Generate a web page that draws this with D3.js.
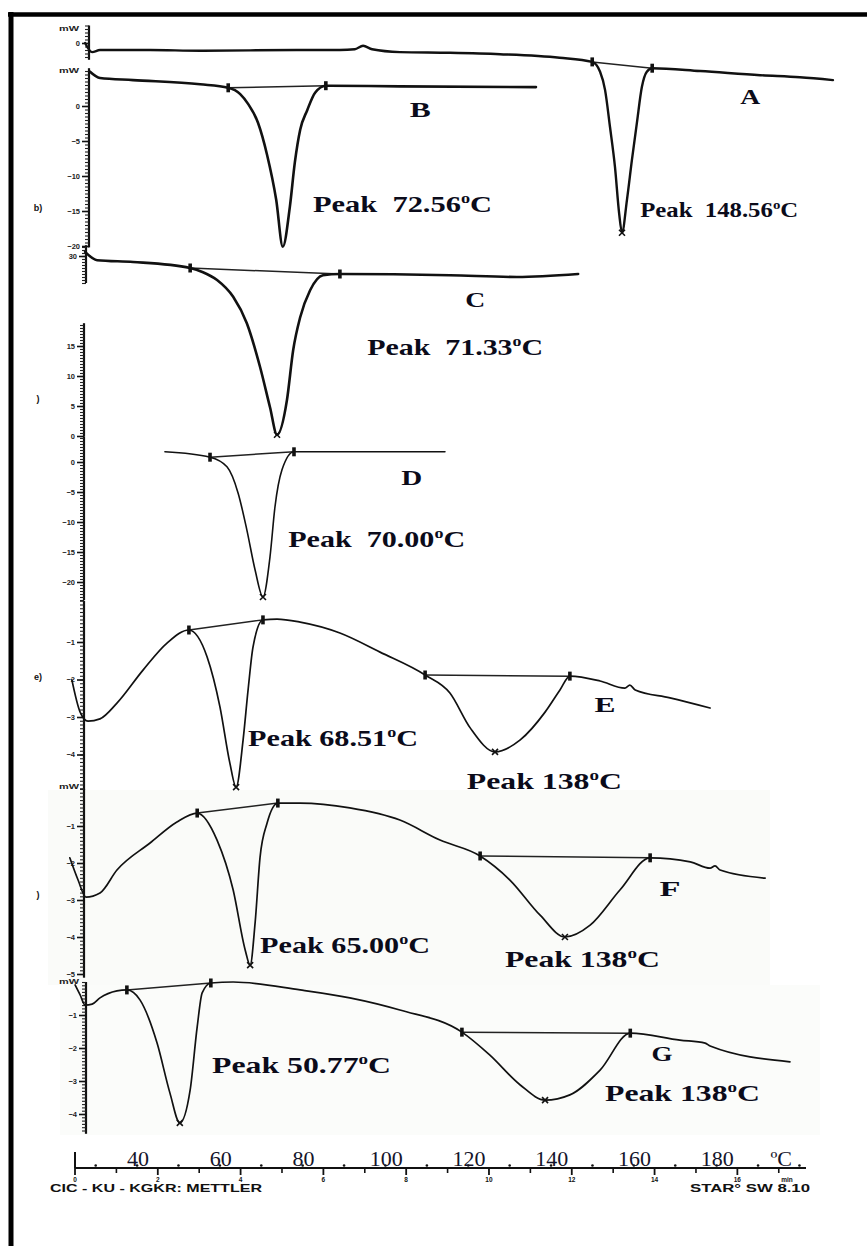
<!DOCTYPE html>
<html>
<head>
<meta charset="utf-8">
<script src="https://cdn.jsdelivr.net/npm/d3@7"></script>
<style>
  html, body { margin: 0; background: #fff; }
  text { white-space: pre; }
</style>
</head>
<body>
<svg class="main" width="867" height="1246"></svg>
<script>
// ---- data: [temperature °C, heat flow mW] ----
const curveA = [[27.2,0.0],[28.9,-1.3],[30.8,-1.0],[42.9,-1.0],[55.0,-1.1],[79.2,-1.0],[88.8,-1.0],[92.4,-0.9],[94.4,-0.4],[96.6,-0.9],[103.3,-1.3],[115.4,-1.4],[127.5,-1.6],[141.9,-2.1],[149.8,-2.7],[151.7,-4.1],[152.9,-6.7],[154.1,-12.0],[155.3,-17.7],[156.3,-24.3],[157.0,-27.1],[158.2,-22.4],[159.4,-16.7],[160.6,-11.4],[161.8,-6.3],[163.0,-4.1],[164.3,-3.6],[175.9,-4.0],[190.4,-4.6],[200.0,-4.9],[208.0,-5.3]];
const marksA = [[149.8,-2.7],[164.3,-3.6]];
const peaksA = [[157.0,-27.1]];

const curveB = [[28.4,4.9],[30.8,4.0],[38.8,3.7],[55.0,3.1],[61.8,2.6],[64.7,1.7],[66.6,0.3],[69.0,-2.4],[71.2,-7.0],[73.4,-13.4],[75.0,-20.1],[76.7,-14.4],[77.9,-8.1],[79.2,-3.4],[80.9,-0.6],[82.8,1.9],[85.4,2.9],[103.3,2.8],[136.2,2.7]];
const marksB = [[61.8,2.6],[85.4,2.9]];
const peaksB = [];

const curveC = [[27.2,30.7],[30.1,29.3],[38.8,29.0],[52.6,28.0],[55.7,27.3],[59.1,26.0],[63.0,23.2],[66.3,18.8],[69.5,11.5],[71.9,4.8],[73.6,0.2],[76.0,6.0],[77.5,14.3],[79.2,19.8],[81.6,24.3],[84.7,26.8],[88.8,27.0],[115.4,26.8],[131.6,26.5],[146.4,27.0]];
const marksC = [[52.6,28.0],[88.8,27.0]];
const peaksC = [[73.6,0.2]];

const curveD = [[46.5,1.7],[57.4,0.8],[61.5,-0.8],[64.2,-5.2],[66.3,-11.3],[68.3,-18.0],[70.2,-22.5],[71.9,-15.8],[73.1,-7.5],[74.8,-1.3],[77.7,1.7],[114.2,1.7]];
const marksD = [[57.4,0.8],[77.7,1.7]];
const peaksD = [[70.2,-22.5]];

const curveE = [[24.0,-2.01],[26.0,-2.87],[27.9,-3.11],[30.8,-3.05],[34.9,-2.63],[41.2,-1.75],[47.0,-1.03],[52.3,-0.68],[56.7,-1.40],[59.8,-2.73],[62.2,-4.23],[63.7,-4.87],[65.4,-3.61],[66.6,-2.28],[67.8,-1.13],[70.2,-0.41],[73.6,-0.39],[79.2,-0.47],[88.8,-0.76],[98.5,-1.27],[109.4,-1.88],[115.4,-2.36],[120.3,-3.29],[126.3,-3.93],[132.4,-3.61],[138.4,-2.87],[142.0,-2.28],[144.4,-1.91],[151.7,-2.04],[157.7,-2.23],[158.9,-2.15],[160.2,-2.28],[168.6,-2.49],[178.3,-2.76]];
const marksE = [[52.3,-0.68],[70.2,-0.41],[109.4,-1.88],[144.4,-1.91]];
const peaksE = [[63.7,-4.87],[126.3,-3.93]];

const curveF = [[23.5,-1.86],[25.5,-2.46],[27.4,-2.92],[30.8,-2.81],[34.9,-2.19],[42.9,-1.46],[49.4,-0.89],[54.3,-0.65],[59.1,-1.38],[63.0,-2.73],[65.9,-4.35],[67.1,-4.76],[68.3,-3.62],[69.5,-1.84],[71.2,-0.92],[73.8,-0.38],[79.2,-0.38],[91.2,-0.51],[103.3,-0.84],[113.0,-1.38],[122.7,-1.81],[129.9,-2.46],[137.2,-3.41],[143.2,-4.00],[149.3,-3.68],[156.5,-2.73],[163.8,-1.86],[173.5,-1.97],[178.3,-2.14],[179.5,-2.08],[180.7,-2.19],[191.6,-2.41]];
const marksF = [[54.3,-0.65],[73.8,-0.38],[122.7,-1.81],[163.8,-1.86]];
const peaksF = [[67.1,-4.76],[143.2,-4.00]];

const curveG = [[24.8,-0.09],[26.0,-0.39],[27.2,-0.70],[28.9,-0.67],[30.8,-0.48],[34.9,-0.27],[37.3,-0.24],[40.5,-0.55],[44.6,-1.85],[47.7,-3.36],[50.1,-4.27],[52.6,-3.27],[54.3,-1.36],[55.5,-0.33],[57.6,-0.03],[63.0,0.00],[79.2,-0.24],[91.2,-0.48],[103.3,-0.85],[118.3,-1.52],[125.0,-2.21],[132.4,-3.12],[138.4,-3.58],[144.4,-3.42],[151.7,-2.67],[159.0,-1.55],[171.0,-1.76],[177.1,-1.85],[178.3,-1.94],[197.6,-2.42]];
const marksG = [[37.3,-0.24],[57.6,-0.03],[118.3,-1.52],[159.0,-1.55]];
const peaksG = [[50.1,-4.27],[138.4,-3.58]];

// ---- tick labels and texts ----
const tempTicks = [40, 60, 80, 100, 120, 140, 160, 180];
const minuteTicks = [0, 2, 4, 6, 8, 10, 12, 14, 16];
const rulerTicksA = [0];
const rulerTicksB = [0, -5, -10, -15, -20];
const rulerTicksC = [0, 5, 10, 15, 30];
const rulerTicksD = [0, -5, -10, -15, -20];
const rulerTicksE = [-1, -2, -3, -4];
const rulerTicksF = [-1, -2, -3, -4, -5];
const rulerTicksG = [-1, -2, -3, -4];
const peakTexts = {
  A: ["Peak  148.56"],
  B: ["Peak  72.56"],
  C: ["Peak  71.33"],
  D: ["Peak  70.00"],
  E: ["Peak 68.51", "Peak 138"],
  F: ["Peak 65.00", "Peak 138"],
  G: ["Peak 50.77", "Peak 138"]
};

(function () {
  'use strict';

  const svg = d3.select("svg.main");
  const serif = "'Liberation Serif', 'Times New Roman', serif";
  const sans = "'Liberation Sans', Arial, sans-serif";

  const x = d3.scaleLinear().domain([25, 201]).range([76, 804]);
  const minutes = d3.scaleLinear().domain([0, 17.6]).range([75, 803.6]);

  // layout of the stacked thermograms (y scale per curve, ruler pieces, labels)
  const panels = [
    { key: "A", data: curveA, marks: marksA, peaks: peaksA, ticks: rulerTicksA,
      domain: [0, -5], range: [43, 78], lw: 2.4, minor: 0.5, unit: 2.1,
      rulers: [[2.5, -2.4, 89]],
      letter: [188.0, -8.7, 20, 20], labels: [[161.4, -24.9, 22, 158]] },
    { key: "B", data: curveB, marks: marksB, peaks: peaksB, ticks: rulerTicksB,
      domain: [0, -20], range: [106, 246], lw: 2.6, minor: 0.5, unit: 5.1,
      rulers: [[5.4, -20.2, 89]],
      letter: [108.2, -1.6, 22, 21], labels: [[82.3, -15.1, 24, 179]] },
    { key: "C", data: curveC, marks: marksC, peaks: peaksC, ticks: rulerTicksC,
      domain: [0, 15], range: [436, 346], lw: 2.6, minor: 0.5, unit: null,
      rulers: [[31.8, 25.5, 86], [18.8, 0, 84]],
      letter: [121.5, 21.5, 22, 20], labels: [[95.4, 13.5, 24, 176]] },
    { key: "D", data: curveD, marks: marksD, peaks: peaksD, ticks: rulerTicksD,
      domain: [0, -20], range: [462, 582], lw: 1.6, minor: 0.5, unit: null,
      rulers: [[4.3, -23, 84]],
      letter: [106.2, -3.8, 22, 21], labels: [[76.3, -14.2, 24, 177]] },
    { key: "E", data: curveE, marks: marksE, peaks: peaksE, ticks: rulerTicksE,
      domain: [-1, -4], range: [642, 754.5], lw: 1.7, minor: 0.1, unit: null,
      rulers: [[0.1, -4.95, 84]],
      letter: [152.9, -2.87, 22, 21], labels: [[66.6, -3.77, 23, 170], [119.5, -4.92, 23, 155]] },
    { key: "F", data: curveF, marks: marksF, peaks: peaksF, ticks: rulerTicksF,
      domain: [-1, -5], range: [826, 974], lw: 1.7, minor: 0.1, unit: 0.08,
      rulers: [[0, -5.1, 84]],
      letter: [168.6, -2.89, 22, 21], labels: [[69.5, -4.43, 23, 170], [128.7, -4.81, 23, 155]] },
    { key: "G", data: curveG, marks: marksG, peaks: peaksG, ticks: rulerTicksG,
      domain: [-1, -4], range: [1015, 1114], lw: 1.7, minor: 0.1, unit: 0.02,
      rulers: [[0, -4.6, 86]],
      letter: [166.7, -2.39, 22, 21], labels: [[57.9, -2.76, 23, 179], [152.9, -3.61, 23, 155]] }
  ];

  // very faint scan shading behind the lower two traces
  svg.append("rect").attr("x", 48).attr("y", 790).attr("width", 722).attr("height", 195)
    .attr("fill", "#fafbf9");
  svg.append("rect").attr("x", 60).attr("y", 985).attr("width", 760).attr("height", 150)
    .attr("fill", "#fbfcfa");

  // page frame (top and left edges only)
  svg.append("line").attr("x1", 8).attr("x2", 867).attr("y1", 14.5).attr("y2", 14.5)
    .attr("stroke", "#000").attr("stroke-width", 4.5);
  svg.append("line").attr("x1", 11).attr("x2", 11).attr("y1", 12).attr("y2", 1246)
    .attr("stroke", "#000").attr("stroke-width", 5);

  function drawRuler(g, y, p) {
    p.rulers.forEach(([top, bottom, rx]) => {
      const r = g.append("g").attr("transform", `translate(${rx},0)`);
      r.append("line").attr("y1", y(top)).attr("y2", y(bottom))
        .attr("stroke", "#111").attr("stroke-width", 2.2);
      const lo = Math.min(top, bottom), hi = Math.max(top, bottom);
      const minor = d3.range(Math.ceil(lo / p.minor) * p.minor, hi + 1e-9, p.minor);
      r.call(d3.axisLeft(y).tickValues(minor).tickSize(4).tickFormat(""))
        .call(s => s.select(".domain").remove())
        .call(s => s.selectAll(".tick line").attr("stroke", "#222").attr("stroke-width", 1.1));
      const majors = p.ticks.filter(v => v >= lo - 1e-9 && v <= hi + 1e-9);
      const ax = r.append("g")
        .call(d3.axisLeft(y).tickValues(majors).tickSize(7).tickPadding(2).tickFormat(d3.format("d")))
        .call(s => s.select(".domain").remove());
      ax.selectAll(".tick line").attr("stroke", "#111").attr("stroke-width", 1.6);
      ax.selectAll(".tick text").attr("font-family", sans).attr("font-weight", "bold")
        .attr("font-size", 7.5).attr("fill", "#222");
    });
    if (p.unit !== null) {
      g.append("text").attr("x", 69).attr("y", y(p.unit)).attr("dy", "0.35em")
        .attr("text-anchor", "middle").attr("font-family", sans).attr("font-weight", "bold")
        .attr("font-size", 7.5).attr("textLength", 20).attr("lengthAdjust", "spacingAndGlyphs")
        .attr("fill", "#222").text("mW");
    }
  }

  function peakLabel(g, px, py, text, size, width) {
    const t = g.append("text").attr("x", px).attr("y", py)
      .attr("font-family", serif).attr("font-weight", "bold").attr("font-size", size)
      .attr("fill", "#0b0b1a").attr("textLength", width).attr("lengthAdjust", "spacingAndGlyphs");
    t.append("tspan").text(text);
    t.append("tspan").attr("font-size", size * 0.6).attr("dy", -size * 0.38).text("o");
    t.append("tspan").attr("dy", size * 0.38).text("C");
    return t;
  }

  panels.forEach(p => {
    const y = d3.scaleLinear().domain(p.domain).range(p.range);
    const g = svg.append("g").attr("class", `curve curve-${p.key}`);

    drawRuler(g, y, p);

    const line = d3.line().x(d => x(d[0])).y(d => y(d[1])).curve(d3.curveMonotoneX);
    const straight = d3.line().x(d => x(d[0])).y(d => y(d[1]));

    // integration baselines between onset / endset markers
    for (let i = 0; i + 1 < p.marks.length; i += 2) {
      g.append("path").attr("d", straight([p.marks[i], p.marks[i + 1]]))
        .attr("fill", "none").attr("stroke", "#222").attr("stroke-width", 1.5);
    }

    g.append("path").attr("d", line(p.data))
      .attr("fill", "none").attr("stroke", "#111").attr("stroke-width", p.lw)
      .attr("stroke-linejoin", "round").attr("stroke-linecap", "round");

    g.selectAll("rect.mark").data(p.marks).join("rect").attr("class", "mark")
      .attr("x", d => x(d[0]) - 1.8).attr("y", d => y(d[1]) - 4.5)
      .attr("width", 3.6).attr("height", 9).attr("fill", "#111");

    g.selectAll("path.peak").data(p.peaks).join("path").attr("class", "peak")
      .attr("d", d => {
        const cx = x(d[0]), cy = y(d[1]);
        return `M${cx - 3},${cy - 3}L${cx + 3},${cy + 3}M${cx + 3},${cy - 3}L${cx - 3},${cy + 3}`;
      })
      .attr("stroke", "#111").attr("stroke-width", 1.6);

    const [lt, lv, ls, lw] = p.letter;
    g.append("text").attr("x", x(lt)).attr("y", y(lv)).attr("text-anchor", "middle")
      .attr("font-family", serif).attr("font-weight", "bold").attr("font-size", ls)
      .attr("textLength", lw).attr("lengthAdjust", "spacingAndGlyphs")
      .attr("fill", "#0b0b1a").text(p.key);

    p.labels.forEach(([t, v, size, width], i) => {
      peakLabel(g, x(t), y(v), peakTexts[p.key][i], size, width);
    });
  });

  // bottom axes: instrument time (min) on the line, temperature labels above
  const axisY = 1168;
  const axis = svg.append("g");
  axis.append("line").attr("x1", minutes(0)).attr("x2", 806).attr("y1", axisY).attr("y2", axisY)
    .attr("stroke", "#111").attr("stroke-width", 2.2);
  axis.selectAll("circle.half").data(d3.range(0.5, 17.6, 1)).join("circle").attr("class", "half")
    .attr("cx", d => minutes(d)).attr("cy", axisY - 2.5).attr("r", 1.3).attr("fill", "#111");
  axis.selectAll("line.odd").data(d3.range(1, 17.6, 2)).join("line").attr("class", "odd")
    .attr("x1", d => minutes(d)).attr("x2", d => minutes(d))
    .attr("y1", axisY).attr("y2", axisY + 5).attr("stroke", "#111").attr("stroke-width", 1.6);
  axis.selectAll("line.even").data(minuteTicks).join("line").attr("class", "even")
    .attr("x1", d => minutes(d)).attr("x2", d => minutes(d))
    .attr("y1", axisY).attr("y2", axisY + 7).attr("stroke", "#111").attr("stroke-width", 1.8);
  axis.selectAll("text.min").data(minuteTicks).join("text").attr("class", "min")
    .attr("x", d => minutes(d)).attr("y", axisY + 14).attr("text-anchor", "middle")
    .attr("font-family", sans).attr("font-weight", "bold").attr("font-size", 6.5)
    .attr("fill", "#111").text(d => d);
  axis.append("text").attr("x", minutes(17.2)).attr("y", axisY + 14).attr("text-anchor", "middle")
    .attr("font-family", sans).attr("font-weight", "bold").attr("font-size", 6.5)
    .attr("fill", "#111").text("min");
  axis.append("line").attr("x1", minutes(0)).attr("x2", minutes(0))
    .attr("y1", axisY - 16).attr("y2", axisY).attr("stroke", "#111").attr("stroke-width", 2);

  axis.selectAll("text.temp").data(tempTicks).join("text").attr("class", "temp")
    .attr("x", d => x(d)).attr("y", axisY - 2).attr("text-anchor", "middle")
    .attr("font-family", serif).attr("font-size", 22).attr("fill", "#14142a")
    .text(d => d);
  axis.append("text").attr("x", x(195.5)).attr("y", axisY - 2).attr("text-anchor", "middle")
    .attr("font-family", serif).attr("font-size", 22).attr("fill", "#14142a").text("ºC");

  svg.append("text").attr("x", 50).attr("y", 1192).attr("font-family", sans)
    .attr("font-weight", "bold").attr("font-size", 10.5).attr("textLength", 212)
    .attr("lengthAdjust", "spacingAndGlyphs").attr("fill", "#111").text("CIC - KU - KGKR: METTLER");
  svg.append("text").attr("x", 690).attr("y", 1192).attr("font-family", sans)
    .attr("font-weight", "bold").attr("font-size", 10.5).attr("textLength", 120)
    .attr("lengthAdjust", "spacingAndGlyphs").attr("fill", "#111").text("STAR° SW 8.10");

  // cropped curve tags left of the rulers
  [["b)", 208], [")", 399], ["e)", 677], [")", 895]].forEach(([s, yy]) => {
    svg.append("text").attr("x", 38).attr("y", yy).attr("dy", "0.35em").attr("text-anchor", "middle")
      .attr("font-family", sans).attr("font-weight", "bold").attr("font-size", 9)
      .attr("fill", "#111").text(s);
  });
}());
</script>
</body>
</html>
